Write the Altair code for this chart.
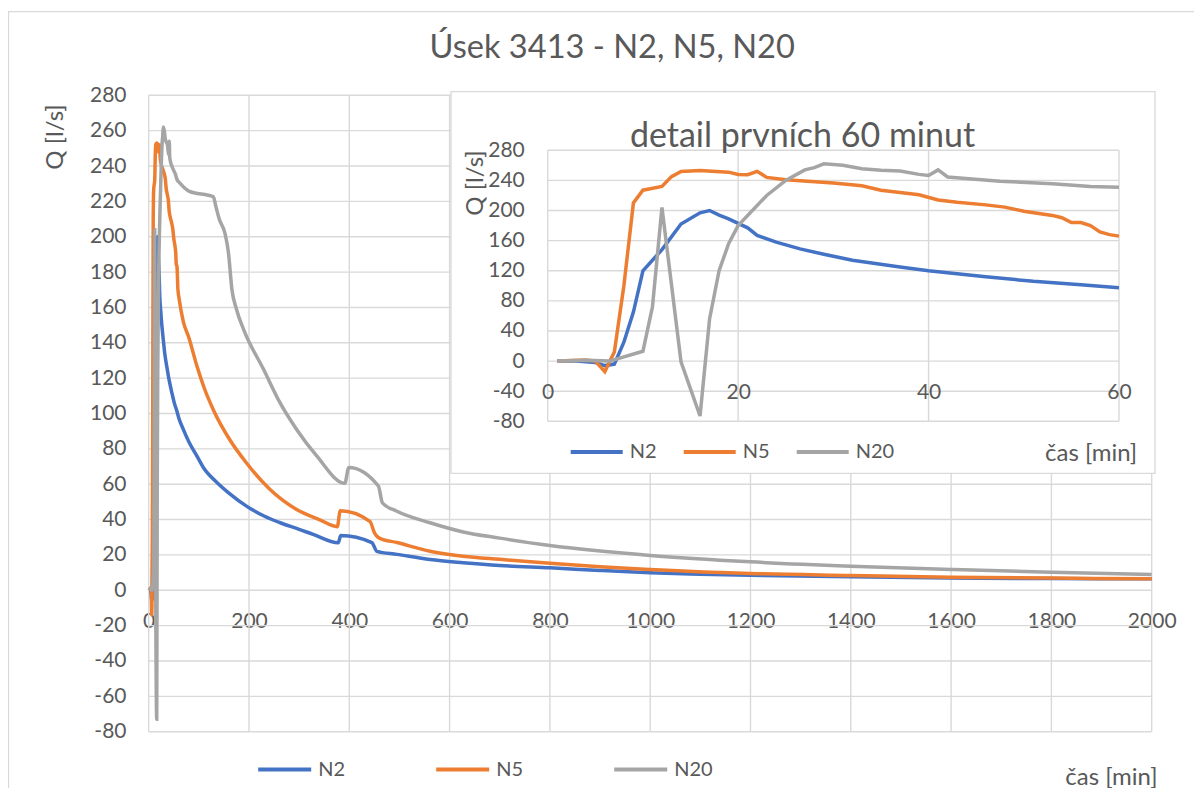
import altair as alt
import pandas as pd

TEXT = "#595959"
GRID = "#D9D9D9"
FONT = "Lato"

SERIES = ["N2", "N5", "N20"]
COLORS = ["#4472C4", "#ED7D31", "#A5A5A5"]

MAIN_TITLE = "Úsek 3413 - N2, N5, N20"
INSET_TITLE = "detail prvních 60 minut"
Y_TITLE = "Q [l/s]"
X_TITLE = "čas [min]"

MAIN_X_TICKS = [0, 200, 400, 600, 800, 1000, 1200, 1400, 1600, 1800, 2000]
MAIN_Y_TICKS = [-80, -60, -40, -20, 0, 20, 40, 60, 80, 100, 120, 140, 160, 180, 200, 220, 240, 260, 280]
INSET_X_TICKS = [0, 20, 40, 60]
INSET_Y_TICKS = [-80, -40, 0, 40, 80, 120, 160, 200, 240, 280]

# first 60 minutes (detail)
N2_DET_T = [1, 3, 5, 6, 7, 8, 9, 10, 12, 14, 16, 17, 18, 19, 21, 22, 24, 26.5, 29, 32, 37, 40, 46, 51, 56, 60]
N2_DET_Q = [0, 0, -2, -6, -4, 25, 65, 120, 148, 182, 197, 200, 194, 189, 177, 167, 158, 149, 142, 134, 125, 120, 112, 106, 101.5, 97.5]

N5_DET_T = [1, 4, 5, 6, 7, 8, 9, 10, 12, 13, 14, 16, 19, 20, 21, 22, 23, 25, 30, 33, 35, 37, 39, 41, 43, 46, 48, 50, 53, 54, 55, 56, 57, 58, 59, 60]
N5_DET_Q = [0, 1.5, 0, -14, 12, 100, 210, 227, 232, 245, 252, 253, 251, 248, 247.5, 252, 244, 241, 236.5, 233, 227, 224, 221, 214, 211, 207.5, 204.5, 199, 193.5, 190.5, 184, 184, 180, 171.5, 168, 166]

N20_DET_T = [1, 4, 6.5, 10, 11, 12, 14, 16, 17, 18, 19, 20, 23, 25, 27, 28, 29, 31, 33, 35, 37, 39, 40, 41, 42, 47.5, 53, 57, 60]
N20_DET_Q = [0, 1, 0, 13, 72, 204, -1, -73, 56, 120, 156, 180, 220, 240, 254, 257, 262, 260, 255.5, 253.5, 252.5, 248, 246.5, 254, 244.5, 239, 235.5, 232, 231]

# rest of the event (after 60 minutes)
N2_LONG_T = [69, 80, 96, 110, 136, 160, 195, 230, 262, 300, 328, 378, 383, 445, 455, 495, 561, 627, 700, 800, 900, 1000, 1100, 1200, 1400, 1600, 1800, 2000]
N2_LONG_Q = [91, 84, 76, 69, 61, 55, 47.6, 42, 38.2, 34.5, 31.6, 26.9, 31, 27, 22, 20.3, 17.4, 15.6, 14, 12.7, 11.2, 9.9, 9.1, 8.5, 7.6, 7.0, 6.6, 6.5]

N5_LONG_T = [69, 80, 96, 110, 129, 162, 195, 242, 295, 340, 376, 382, 441, 451, 460, 495, 561, 627, 700, 800, 900, 1000, 1200, 1400, 1600, 1800, 2000]
N5_LONG_Q = [152, 143, 127, 115, 102, 85, 72, 57, 45.7, 40, 36, 45, 39, 32, 29.5, 27, 22.1, 19.3, 17.5, 15.3, 13.3, 11.8, 9.5, 8.4, 7.4, 6.9, 6.5]

N20_LONG_T = [70, 80, 129, 134, 141, 152, 159, 166, 175, 190, 229, 262, 295, 335, 391, 399, 458, 466, 495, 561, 627, 700, 800, 1000, 1200, 1400, 1600, 1800, 2000]
N20_LONG_Q = [228, 225.8, 222.6, 217, 209.7, 202, 191, 170, 159, 147, 125, 106, 91, 76, 60.5, 69.5, 59, 49.5, 44.7, 38.2, 33, 29.5, 25.3, 19.7, 16.1, 13.6, 11.8, 10.2, 8.9]


def frame(name, ts, qs):
    return pd.DataFrame({"t": ts, "q": qs, "series": name})


detail = pd.concat([
    frame("N2", N2_DET_T, N2_DET_Q),
    frame("N5", N5_DET_T, N5_DET_Q),
    frame("N20", N20_DET_T, N20_DET_Q),
])
full = pd.concat([
    frame("N2", N2_DET_T + N2_LONG_T, N2_DET_Q + N2_LONG_Q),
    frame("N5", N5_DET_T + N5_LONG_T, N5_DET_Q + N5_LONG_Q),
    frame("N20", N20_DET_T + N20_LONG_T, N20_DET_Q + N20_LONG_Q),
])

# ---- layout (pixels) ----
W, H = 1003, 636.4
PAD = {"left": 140.7, "top": 87.3, "right": 42.3, "bottom": 56.3}
INSET_X_RANGE = [399, 970.3]
INSET_Y_RANGE = [326, 55]
LABEL_EXPR = "'' + datum.value"

main_x = alt.Scale(domain=[0, 2000], nice=False, zero=False)
main_y = alt.Scale(domain=[-80, 280], nice=False, zero=False)
ins_x = alt.Scale(domain=[0, 60], nice=False, zero=False, range=INSET_X_RANGE)
ins_y = alt.Scale(domain=[-80, 280], nice=False, zero=False, range=INSET_Y_RANGE)
color = alt.Scale(domain=SERIES, range=COLORS)

main_x_axis = alt.Axis(values=MAIN_X_TICKS, labelExpr=LABEL_EXPR, orient="bottom", offset=-140.9,
                       labelPadding=31, labelBaseline="middle", zindex=0, title=X_TITLE,
                       titleX=1008.3, titleY=186.2, titleAlign="right", titleBaseline="middle")
main_y_axis = alt.Axis(values=MAIN_Y_TICKS, labelExpr=LABEL_EXPR, orient="left", labelPadding=22.7,
                       zindex=0, title=Y_TITLE, titleX=-93.7, titleY=41.2, titleAngle=270,
                       titleAlign="center", titleBaseline="middle")
ins_x_axis = alt.Axis(values=INSET_X_TICKS, labelExpr=LABEL_EXPR, orient="bottom", offset=-371,
                      labelPadding=32, labelBaseline="middle", zindex=1, title=X_TITLE, titleX=988,
                      titleY=92.6, titleAlign="right", titleBaseline="middle")
ins_y_axis = alt.Axis(values=INSET_Y_TICKS, labelExpr=LABEL_EXPR, orient="left", offset=-399,
                      labelPadding=23.4, zindex=1, title=Y_TITLE, titleX=-72.7, titleY=87.2,
                      titleAngle=270, titleAlign="center", titleBaseline="middle")

one = pd.DataFrame({"k": [0]})

# ---------- main chart ----------
border = alt.Chart(one).mark_rect(fillOpacity=0, stroke=GRID, strokeWidth=1.3).encode(
    x=alt.value(-140.2), x2=alt.value(1046.3), y=alt.value(-83.6), y2=alt.value(720)
)

main_gv = alt.Chart(pd.DataFrame({"t": MAIN_X_TICKS})).mark_rule(color=GRID, strokeWidth=1.4).encode(
    x=alt.X("t:Q", scale=main_x, axis=main_x_axis),
    y=alt.datum(-80, scale=main_y, axis=main_y_axis),
    y2=alt.datum(280),
)
main_gh = alt.Chart(pd.DataFrame({"q": MAIN_Y_TICKS})).mark_rule(color=GRID, strokeWidth=1.4).encode(
    y=alt.Y("q:Q", scale=main_y, axis=main_y_axis),
    x=alt.datum(0, scale=main_x, axis=main_x_axis),
    x2=alt.datum(2000),
)

main_lines = alt.Chart(full).mark_line(strokeWidth=3.5, interpolate="monotone").encode(
    x=alt.X("t:Q", scale=main_x, axis=main_x_axis),
    y=alt.Y("q:Q", scale=main_y, axis=main_y_axis),
    color=alt.Color("series:N", scale=color, sort=SERIES,
                    legend=alt.Legend(title=None, orient="none", legendX=107.5, legendY=645.5,
                                      direction="horizontal", symbolType="stroke", symbolSize=2809,
                                      symbolStrokeWidth=4, labelOffset=5, columnPadding=71,
                                      gridAlign="all", padding=0, zindex=1)),
    detail="series:N",
)

main_title = alt.Chart(pd.DataFrame({"label": [MAIN_TITLE]})).mark_text(
    font=FONT, fontSize=32.6, color=TEXT, align="center", baseline="alphabetic"
).encode(x=alt.value(463.5), y=alt.value(-37.3), text="label:N")

main_layer = alt.layer(border, main_gv, main_gh, main_lines, main_title)

# ---------- inset ----------
box = alt.Chart(one).mark_rect(fill="white", stroke=GRID, strokeWidth=1.3).encode(
    x=alt.value(302.3), x2=alt.value(1006.3), y=alt.value(-3.6), y2=alt.value(378)
)
ins_gv = alt.Chart(pd.DataFrame({"t": INSET_X_TICKS})).mark_rule(color=GRID, strokeWidth=1.4).encode(
    x=alt.X("t:Q", scale=ins_x, axis=ins_x_axis),
    y=alt.datum(-80, scale=ins_y, axis=ins_y_axis),
    y2=alt.datum(280),
)
ins_gh = alt.Chart(pd.DataFrame({"q": INSET_Y_TICKS})).mark_rule(color=GRID, strokeWidth=1.4).encode(
    y=alt.Y("q:Q", scale=ins_y, axis=ins_y_axis),
    x=alt.datum(0, scale=ins_x, axis=ins_x_axis),
    x2=alt.datum(60),
)
ins_lines = alt.Chart(detail).mark_line(strokeWidth=3.5).encode(
    x=alt.X("t:Q", scale=ins_x, axis=ins_x_axis),
    y=alt.Y("q:Q", scale=ins_y, axis=ins_y_axis),
    color=alt.Color("series:N", scale=color, sort=SERIES,
                    legend=alt.Legend(title=None, orient="none", legendX=420, legendY=328.7,
                                      direction="horizontal", symbolType="stroke", symbolSize=2704,
                                      symbolStrokeWidth=4, labelOffset=5, columnPadding=7,
                                      gridAlign="all", padding=0, zindex=1)),
    detail="series:N",
)
ins_title = alt.Chart(pd.DataFrame({"label": [INSET_TITLE]})).mark_text(
    font=FONT, fontSize=34, color=TEXT, align="center", baseline="alphabetic"
).encode(x=alt.value(653.8), y=alt.value(51.4), text="label:N")

inset_layer = alt.layer(box, ins_gv, ins_gh, ins_lines, ins_title)

chart = alt.layer(main_layer, inset_layer).resolve_scale(
    x="independent", y="independent", color="independent"
).properties(
    width=W, height=H, padding=PAD, autosize=alt.AutoSizeParams(type="none"), background="white"
).configure_view(stroke=None).configure_axis(
    labelFont=FONT, titleFont=FONT, labelColor=TEXT, titleColor=TEXT, labelFontSize=21,
    titleFontSize=24, titleFontWeight="normal", grid=False, ticks=False, domain=False,
    labelFlush=False
).configure_legend(labelFont=FONT, labelColor=TEXT, labelFontSize=20)

chart.save("out.html", embed_options={"renderer": "svg", "actions": False})
